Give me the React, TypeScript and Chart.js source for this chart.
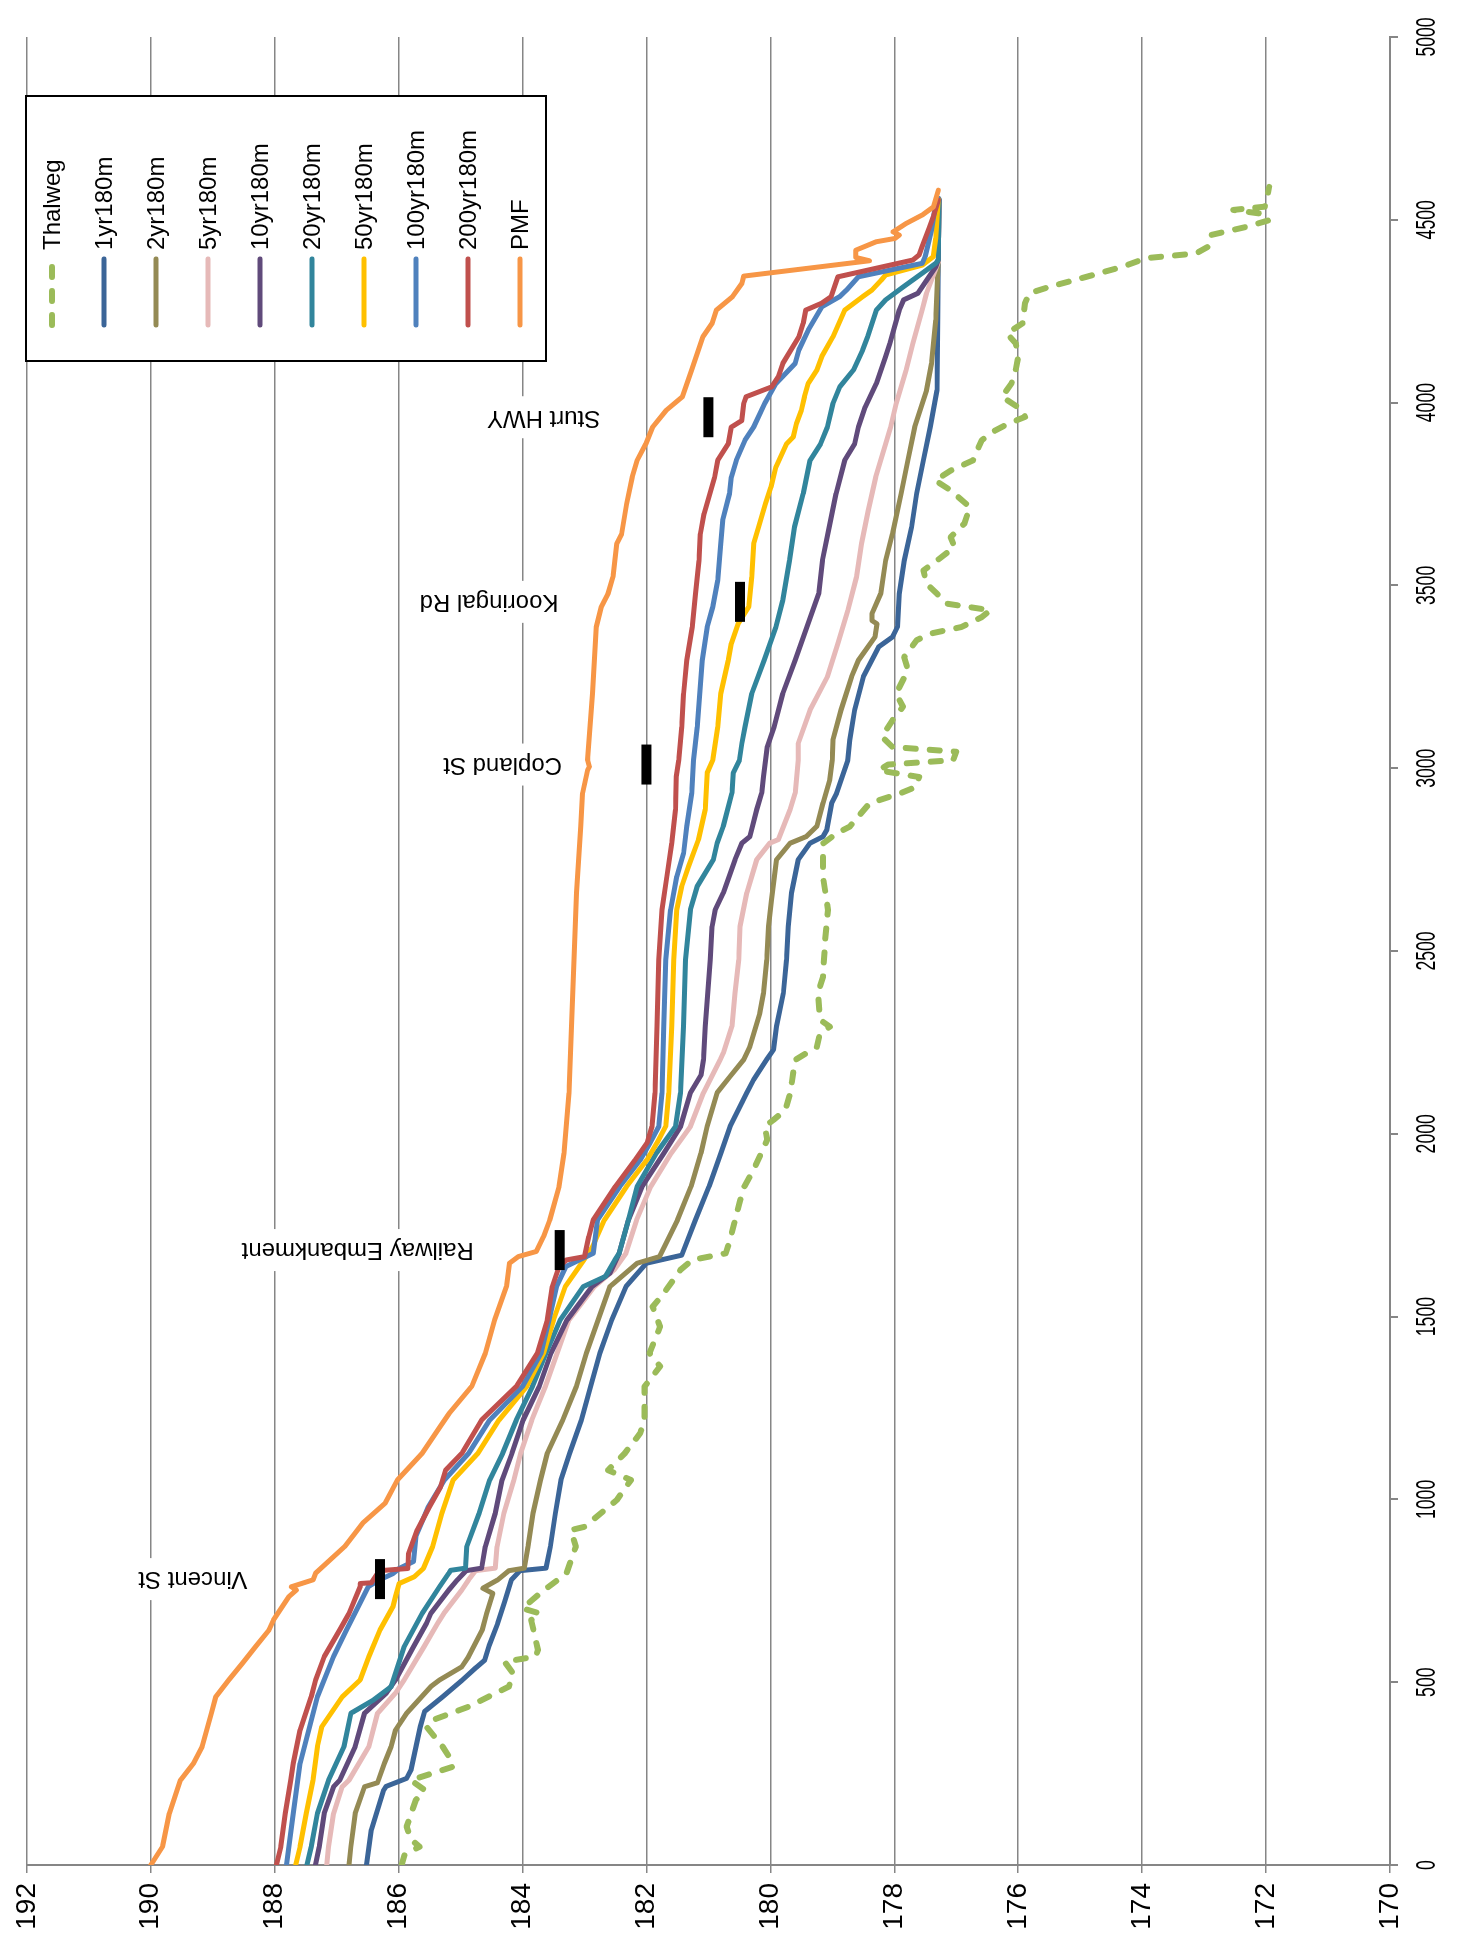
import React, { useEffect, useRef } from 'react';
import { Chart, registerables } from 'chart.js';

Chart.register(...registerables);

type Pt = [number, number];

// Series: [distance (m), elevation (m AHD)]
const thalweg: Pt[] = [
  [0, 185.95], [30, 185.9], [50, 185.66], [70, 185.8], [105, 185.87], [178, 185.72], [205, 185.58], [232, 185.8],
  [269, 185.12], [300, 185.2], [324, 185.29], [378, 185.55], [397, 185.44], [433, 184.87], [488, 184.22], [524, 184.15],
  [556, 184.29], [570, 183.79], [588, 183.75], [670, 183.86], [688, 183.72], [702, 184.0], [743, 183.72], [798, 183.29],
  [871, 183.14], [916, 183.22], [925, 183.0], [998, 182.48], [1053, 182.25], [1080, 182.62], [1126, 182.35], [1181, 182.1],
  [1218, 182.03], [1309, 182.03], [1364, 181.78], [1400, 181.95], [1472, 181.78], [1527, 181.9], [1564, 181.72], [1628, 181.45],
  [1655, 181.26], [1673, 180.72], [1710, 180.65], [1810, 180.5], [1856, 180.42], [1902, 180.27], [1984, 180.05], [2020, 180.09],
  [2038, 179.95], [2065, 179.76], [2110, 179.68], [2202, 179.6], [2238, 179.25], [2275, 179.2], [2293, 179.04], [2312, 179.2],
  [2385, 179.23], [2430, 179.15], [2521, 179.12], [2612, 179.07], [2703, 179.15], [2794, 179.15], [2822, 178.93], [2840, 178.72],
  [2904, 178.4], [2931, 177.91], [2949, 177.65], [2976, 177.6], [2994, 178.25], [3010, 178.1], [3022, 177.05], [3045, 177.0],
  [3058, 178.03], [3086, 178.2], [3131, 178.03], [3168, 177.86], [3204, 177.97], [3268, 177.78], [3304, 177.84], [3350, 177.64],
  [3368, 177.42], [3386, 176.92], [3413, 176.59], [3432, 176.45], [3450, 177.15], [3477, 177.31], [3505, 177.48], [3541, 177.53],
  [3568, 177.31], [3605, 177.03], [3632, 177.09], [3669, 176.87], [3714, 176.78], [3760, 177.09], [3787, 177.34], [3814, 177.09],
  [3842, 176.73], [3897, 176.59], [3924, 176.37], [3943, 176.15], [3961, 175.89], [3979, 175.93], [4016, 176.26], [4052, 176.11],
  [4089, 176.04], [4126, 176.0], [4162, 176.04], [4189, 176.18], [4217, 175.93], [4272, 175.89], [4299, 175.82], [4317, 175.49],
  [4344, 174.9], [4372, 174.31], [4395, 173.94], [4408, 173.13], [4426, 172.94], [4458, 172.9], [4481, 172.31], [4499, 171.95],
  [4517, 172.09], [4527, 172.53], [4536, 172.02], [4563, 171.98], [4590, 171.95],
];

const yr1: Pt[] = [
  [0, 186.52], [96, 186.44], [205, 186.24], [215, 186.2], [237, 185.87], [260, 185.8], [378, 185.65], [420, 185.58],
  [460, 185.29], [506, 184.97], [540, 184.75], [560, 184.61], [600, 184.54], [661, 184.4], [720, 184.29], [780, 184.18],
  [805, 184.04], [812, 183.62], [871, 183.55], [962, 183.47], [1053, 183.38], [1126, 183.24], [1217, 183.05], [1309, 182.9],
  [1400, 182.75], [1491, 182.56], [1582, 182.33], [1646, 182.0], [1668, 181.43], [1764, 181.21], [1856, 180.99], [1947, 180.8],
  [2020, 180.65], [2112, 180.38], [2148, 180.27], [2203, 180.06], [2230, 179.95], [2294, 179.9], [2385, 179.79], [2476, 179.74],
  [2567, 179.71], [2659, 179.66], [2750, 179.55], [2795, 179.36], [2813, 179.15], [2831, 179.09], [2905, 179.01], [2932, 178.93],
  [3022, 178.75], [3077, 178.72], [3159, 178.64], [3250, 178.5], [3332, 178.25], [3359, 178.03], [3386, 177.95], [3477, 177.92],
  [3568, 177.84], [3660, 177.72], [3751, 177.64], [3842, 177.53], [3933, 177.42], [4034, 177.31], [4226, 177.3], [4390, 177.29],
  [4558, 177.28],
];

const yr2: Pt[] = [
  [0, 186.8], [50, 186.77], [141, 186.7], [214, 186.55], [225, 186.34], [278, 186.23], [324, 186.12], [369, 186.05],
  [415, 185.87], [488, 185.48], [506, 185.34], [542, 184.98], [570, 184.87], [643, 184.65], [688, 184.58], [743, 184.48],
  [757, 184.64], [780, 184.4], [805, 184.22], [812, 183.97], [871, 183.91], [962, 183.83], [1053, 183.71], [1126, 183.6],
  [1217, 183.35], [1309, 183.13], [1400, 182.97], [1491, 182.78], [1582, 182.59], [1646, 182.15], [1664, 181.79], [1764, 181.5],
  [1856, 181.28], [1947, 181.12], [2020, 181.02], [2112, 180.86], [2157, 180.65], [2203, 180.43], [2239, 180.33], [2330, 180.17],
  [2385, 180.11], [2476, 180.06], [2567, 180.03], [2640, 179.98], [2750, 179.9], [2795, 179.68], [2813, 179.42], [2841, 179.25],
  [2905, 179.15], [2969, 179.04], [3022, 179.0], [3077, 178.99], [3159, 178.86], [3250, 178.69], [3295, 178.58], [3359, 178.31],
  [3395, 178.28], [3404, 178.36], [3423, 178.36], [3477, 178.22], [3568, 178.14], [3641, 178.03], [3751, 177.89], [3842, 177.78],
  [3933, 177.67], [4034, 177.48], [4107, 177.4], [4226, 177.33], [4390, 177.29], [4556, 177.28],
];

const yr5: Pt[] = [
  [0, 187.16], [50, 187.13], [141, 187.05], [214, 186.91], [232, 186.8], [324, 186.48], [415, 186.34], [470, 186.05],
  [506, 185.91], [597, 185.59], [661, 185.37], [688, 185.27], [752, 184.98], [780, 184.87], [805, 184.76], [812, 184.44],
  [871, 184.41], [962, 184.3], [1053, 184.14], [1126, 184.03], [1217, 183.85], [1309, 183.63], [1400, 183.44], [1491, 183.25],
  [1582, 182.84], [1628, 182.52], [1673, 182.33], [1764, 182.16], [1856, 181.93], [1947, 181.6], [2020, 181.29], [2112, 181.08],
  [2203, 180.81], [2221, 180.76], [2294, 180.62], [2385, 180.57], [2476, 180.51], [2567, 180.49], [2659, 180.38], [2750, 180.22],
  [2795, 180.01], [2805, 179.87], [2887, 179.68], [2932, 179.6], [3022, 179.55], [3068, 179.55], [3159, 179.36], [3250, 179.08],
  [3341, 178.91], [3432, 178.75], [3523, 178.61], [3614, 178.53], [3705, 178.42], [3796, 178.3], [3887, 178.14], [3933, 178.06],
  [3997, 177.97], [4089, 177.81], [4162, 177.7], [4253, 177.55], [4299, 177.48], [4385, 177.29], [4555, 177.28],
];

const yr10: Pt[] = [
  [0, 187.34], [50, 187.28], [141, 187.2], [214, 187.05], [232, 186.95], [324, 186.7], [415, 186.55], [470, 186.2],
  [506, 186.05], [597, 185.76], [661, 185.55], [688, 185.48], [752, 185.19], [780, 185.05], [805, 184.91], [812, 184.66],
  [871, 184.6], [962, 184.44], [1053, 184.33], [1126, 184.17], [1217, 183.99], [1309, 183.73], [1400, 183.54], [1491, 183.28],
  [1582, 182.88], [1619, 182.59], [1673, 182.44], [1764, 182.29], [1856, 182.07], [1947, 181.72], [2020, 181.45], [2112, 181.29],
  [2160, 181.12], [2203, 181.08], [2294, 181.05], [2476, 180.97], [2567, 180.94], [2613, 180.89], [2659, 180.76], [2750, 180.57],
  [2795, 180.46], [2813, 180.33], [2887, 180.22], [2932, 180.14], [2977, 180.11], [3059, 180.05], [3113, 179.94], [3204, 179.8],
  [3295, 179.6], [3386, 179.41], [3477, 179.22], [3568, 179.16], [3660, 179.05], [3751, 178.94], [3842, 178.8], [3887, 178.64],
  [3933, 178.58], [3988, 178.47], [4052, 178.29], [4126, 178.14], [4162, 178.07], [4253, 177.92], [4281, 177.85], [4299, 177.62],
  [4372, 177.33], [4390, 177.29], [4555, 177.28],
];

const yr20: Pt[] = [
  [0, 187.48], [50, 187.41], [141, 187.31], [232, 187.13], [324, 186.88], [415, 186.77], [451, 186.41], [488, 186.12],
  [597, 185.91], [688, 185.62], [761, 185.34], [798, 185.19], [806, 185.16], [812, 184.92], [871, 184.9], [962, 184.7],
  [1053, 184.53], [1126, 184.32], [1217, 184.1], [1309, 183.84], [1400, 183.62], [1491, 183.39], [1582, 183.02], [1610, 182.66],
  [1655, 182.51], [1673, 182.44], [1764, 182.29], [1856, 182.15], [1947, 181.84], [2020, 181.53], [2112, 181.45], [2294, 181.4],
  [2476, 181.37], [2613, 181.29], [2677, 181.18], [2750, 180.92], [2795, 180.86], [2841, 180.76], [2932, 180.62], [2987, 180.6],
  [3022, 180.5], [3068, 180.46], [3113, 180.41], [3204, 180.3], [3295, 180.1], [3386, 179.91], [3459, 179.8], [3568, 179.69],
  [3660, 179.61], [3751, 179.47], [3842, 179.36], [3887, 179.19], [3933, 179.08], [3998, 178.99], [4043, 178.88], [4089, 178.66],
  [4144, 178.51], [4180, 178.43], [4253, 178.29], [4281, 178.14], [4317, 177.85], [4354, 177.55], [4381, 177.33], [4390, 177.29],
  [4555, 177.28],
];

const yr50: Pt[] = [
  [0, 187.66], [50, 187.59], [141, 187.49], [232, 187.38], [324, 187.31], [378, 187.24], [460, 186.91], [506, 186.62],
  [570, 186.48], [643, 186.3], [707, 186.09], [734, 186.05], [770, 185.99], [788, 185.75], [811, 185.6], [871, 185.45],
  [962, 185.3], [1053, 185.12], [1126, 184.72], [1217, 184.38], [1309, 183.93], [1400, 183.66], [1491, 183.5], [1582, 183.31],
  [1655, 183.01], [1691, 182.87], [1764, 182.68], [1856, 182.32], [1929, 181.99], [1975, 181.83], [2020, 181.69], [2112, 181.64],
  [2294, 181.59], [2476, 181.56], [2613, 181.51], [2677, 181.43], [2732, 181.32], [2805, 181.16], [2887, 181.05], [2987, 181.02],
  [3022, 180.93], [3113, 180.85], [3204, 180.8], [3295, 180.68], [3341, 180.63], [3395, 180.52], [3441, 180.35], [3523, 180.3],
  [3614, 180.27], [3660, 180.19], [3723, 180.08], [3769, 179.99], [3824, 179.91], [3887, 179.74], [3906, 179.63], [3942, 179.58],
  [3979, 179.5], [4016, 179.45], [4052, 179.39], [4089, 179.25], [4126, 179.17], [4180, 178.99], [4253, 178.8], [4290, 178.51],
  [4308, 178.36], [4335, 178.21], [4349, 178.14], [4376, 177.55], [4399, 177.37], [4450, 177.33], [4556, 177.29],
];

const yr100: Pt[] = [
  [0, 187.81], [141, 187.7], [278, 187.59], [460, 187.31], [570, 187.05], [643, 186.84], [761, 186.49], [779, 186.32],
  [797, 186.09], [811, 185.99], [830, 185.76], [900, 185.72], [980, 185.52], [1053, 185.26], [1126, 184.87], [1217, 184.53],
  [1309, 184.0], [1400, 183.7], [1491, 183.57], [1582, 183.45], [1637, 183.3], [1655, 183.08], [1673, 182.86], [1764, 182.79],
  [1856, 182.43], [1929, 182.1], [1975, 181.94], [2020, 181.8], [2112, 181.75], [2294, 181.72], [2476, 181.69], [2613, 181.61],
  [2704, 181.51], [2768, 181.4], [2841, 181.35], [2932, 181.27], [3022, 181.24], [3113, 181.18], [3295, 181.1], [3386, 181.02],
  [3441, 180.93], [3514, 180.85], [3614, 180.8], [3678, 180.77], [3751, 180.66], [3796, 180.63], [3842, 180.55], [3897, 180.41],
  [3933, 180.27], [3998, 180.09], [4052, 179.91], [4107, 179.6], [4144, 179.54], [4198, 179.39], [4262, 179.17], [4290, 178.88],
  [4308, 178.77], [4344, 178.58], [4381, 177.55], [4400, 177.5], [4472, 177.4], [4545, 177.33], [4560, 177.3],
];

const yr200: Pt[] = [
  [0, 187.97], [50, 187.9], [141, 187.83], [232, 187.74], [278, 187.7], [369, 187.59], [460, 187.41], [506, 187.34],
  [570, 187.2], [643, 186.95], [688, 186.8], [761, 186.62], [770, 186.62], [772, 186.44], [805, 186.31], [811, 185.85],
  [852, 185.84], [916, 185.7], [980, 185.5], [1035, 185.32], [1080, 185.24], [1126, 184.98], [1217, 184.66], [1309, 184.1],
  [1400, 183.76], [1491, 183.6], [1582, 183.52], [1637, 183.41], [1655, 183.29], [1664, 183.0], [1719, 182.93], [1764, 182.86],
  [1856, 182.5], [1929, 182.18], [1975, 181.99], [2020, 181.91], [2112, 181.86], [2294, 181.83], [2476, 181.8], [2613, 181.75],
  [2704, 181.67], [2795, 181.59], [2887, 181.53], [2977, 181.52], [3022, 181.48], [3113, 181.43], [3204, 181.4], [3295, 181.35],
  [3386, 181.26], [3477, 181.21], [3568, 181.15], [3641, 181.13], [3696, 181.07], [3796, 180.9], [3842, 180.85], [3887, 180.68],
  [3933, 180.63], [3951, 180.46], [3998, 180.43], [4016, 180.39], [4043, 179.98], [4071, 179.87], [4107, 179.8], [4180, 179.54],
  [4217, 179.47], [4253, 179.43], [4272, 179.17], [4290, 179.02], [4344, 178.91], [4390, 177.7], [4404, 177.6], [4427, 177.55],
  [4477, 177.44], [4509, 177.37], [4554, 177.29],
];

const pmf: Pt[] = [
  [0, 190.0], [50, 189.81], [141, 189.7], [232, 189.52], [278, 189.31], [324, 189.17], [415, 189.02], [460, 188.95],
  [506, 188.74], [552, 188.52], [597, 188.31], [643, 188.09], [670, 188.02], [734, 187.77], [752, 187.65], [761, 187.73],
  [780, 187.38], [798, 187.34], [871, 186.87], [935, 186.58], [989, 186.22], [1053, 186.02], [1126, 185.62], [1199, 185.33],
  [1236, 185.18], [1309, 184.82], [1400, 184.6], [1491, 184.45], [1582, 184.26], [1646, 184.21], [1664, 184.07], [1678, 183.78],
  [1719, 183.66], [1764, 183.56], [1856, 183.41], [1947, 183.33], [2112, 183.25], [2294, 183.21], [2476, 183.17], [2659, 183.13],
  [2841, 183.06], [2932, 183.03], [2995, 182.95], [3004, 182.92], [3022, 182.95], [3204, 182.87], [3386, 182.81], [3441, 182.73],
  [3477, 182.62], [3523, 182.54], [3614, 182.48], [3641, 182.4], [3723, 182.32], [3796, 182.23], [3842, 182.15], [3887, 182.01],
  [3933, 181.9], [3979, 181.68], [4016, 181.42], [4089, 181.27], [4180, 181.09], [4217, 180.94], [4253, 180.87], [4290, 180.61],
  [4326, 180.46], [4346, 180.43], [4388, 178.4], [4397, 178.62], [4417, 178.62], [4440, 178.29], [4449, 177.99], [4458, 177.92],
  [4467, 178.02], [4490, 177.81], [4513, 177.55], [4535, 177.37], [4581, 177.29],
];

const seriesNames = ['Thalweg', '1yr180m', '2yr180m', '5yr180m', '10yr180m', '20yr180m', '50yr180m', '100yr180m', '200yr180m', 'PMF'];
const seriesData: Pt[][] = [thalweg, yr1, yr2, yr5, yr10, yr20, yr50, yr100, yr200, pmf];
const seriesColors = ['#9BBB59', '#3B6598', '#948A54', '#E6B9B8', '#604A7B', '#31859C', '#FFC000', '#4F81BD', '#C0504D', '#F79646'];

// Structures: name, chainage (m), marker level (m), label level (m)
const structureNames = ['Vincent St', 'Railway Embankment', 'Copland St', 'Kooringal Rd', 'Sturt HWY'];
const structureChainage = [782, 1682, 3010, 3455, 3960];
const structureMarkerLevel = [186.3, 183.4, 182.0, 180.49, 181.0];
const structureLabelLevel = [189.32, 186.66, 184.32, 184.54, 183.66];

const distanceMin = 0;
const distanceMax = 5000;
const distanceStep = 500;
const levelMin = 170;
const levelMax = 192;
const levelStep = 2;

const SANS = '"Liberation Sans", Arial, sans-serif';

export default function App() {
  const ref = useRef<HTMLCanvasElement>(null);

  useEffect(() => {
    const canvas = ref.current;
    if (!canvas) return;

    const structuresPlugin = {
      id: 'structures',
      afterDatasetsDraw(chart: any) {
        const { ctx } = chart;
        const xs = chart.scales.x;
        const ys = chart.scales.y;
        ctx.save();
        ctx.font = `24px ${SANS}`;
        for (let i = 0; i < structureNames.length; i++) {
          const px = xs.getPixelForValue(structureChainage[i]);
          const my = ys.getPixelForValue(structureMarkerLevel[i]);
          ctx.fillStyle = '#000';
          ctx.fillRect(px - 20, my - 5, 40, 10);
          const ty = ys.getPixelForValue(structureLabelLevel[i]);
          ctx.save();
          ctx.translate(px, ty);
          ctx.rotate(-Math.PI / 2);
          const w = ctx.measureText(structureNames[i]).width;
          ctx.fillStyle = '#fff';
          ctx.fillRect(-w / 2 - 8, -21, w + 16, 42);
          ctx.fillStyle = '#000';
          ctx.textAlign = 'center';
          ctx.textBaseline = 'middle';
          ctx.fillText(structureNames[i], 0, 0);
          ctx.restore();
        }
        ctx.restore();
      },
    };

    const distanceLabelsPlugin = {
      id: 'distanceLabels',
      afterDraw(chart: any) {
        const { ctx } = chart;
        const xs = chart.scales.x;
        ctx.save();
        ctx.font = `28px ${SANS}`;
        ctx.fillStyle = '#000';
        ctx.textAlign = 'center';
        ctx.textBaseline = 'alphabetic';
        for (let v = distanceMin; v <= distanceMax; v += distanceStep) {
          const cx = xs.getPixelForValue(v);
          ctx.save();
          ctx.translate(cx, xs.top + 45);
          ctx.scale(0.63, 1);
          ctx.fillText(String(v), 0, 0);
          ctx.restore();
        }
        ctx.restore();
      },
    };

    const legendPlugin = {
      id: 'customLegend',
      afterDraw(chart: any) {
        const { ctx } = chart;
        ctx.save();
        const bx = 1578, by = 26, bw = 265, bh = 520;
        ctx.fillStyle = '#fff';
        ctx.fillRect(bx, by, bw, bh);
        ctx.strokeStyle = '#000';
        ctx.lineWidth = 2;
        ctx.strokeRect(bx, by, bw, bh);
        ctx.font = `24px ${SANS}`;
        ctx.textBaseline = 'middle';
        ctx.textAlign = 'left';
        for (let i = 0; i < seriesNames.length; i++) {
          const cy = 52 + i * 52;
          ctx.beginPath();
          ctx.strokeStyle = seriesColors[i];
          ctx.lineWidth = i === 0 ? 6 : 5;
          ctx.lineCap = 'round';
          if (i === 0) ctx.setLineDash([10, 14]); else ctx.setLineDash([]);
          ctx.moveTo(1614, cy);
          ctx.lineTo(1680, cy);
          ctx.stroke();
          ctx.setLineDash([]);
          ctx.fillStyle = '#000';
          ctx.fillText(seriesNames[i], 1689, cy + 1);
        }
        ctx.restore();
      },
    };

    const datasets = seriesNames.map((name, i) => ({
      label: name,
      data: seriesData[i].map(([d, e]) => ({ x: d, y: e })),
      borderColor: seriesColors[i],
      backgroundColor: seriesColors[i],
      borderWidth: i === 0 ? 6 : 5,
      borderDash: i === 0 ? [10, 14] : [],
      borderCapStyle: 'round' as const,
      borderJoinStyle: 'round' as const,
      pointRadius: 0,
      pointHoverRadius: 0,
      tension: 0,
      fill: false,
      order: seriesNames.length - i,
    }));

    const chart = new Chart(canvas, {
      type: 'line',
      data: { datasets },
      options: {
        animation: false,
        responsive: false,
        maintainAspectRatio: false,
        devicePixelRatio: 1,
        events: [],
        layout: { padding: { top: 21, right: 37, left: 0, bottom: 0 } },
        plugins: {
          legend: { display: false },
          tooltip: { enabled: false },
          title: { display: false },
        },
        scales: {
          x: {
            type: 'linear',
            position: 'bottom',
            min: distanceMin,
            max: distanceMax,
            ticks: {
              stepSize: distanceStep,
              autoSkip: false,
              maxRotation: 0,
              minRotation: 0,
              padding: 16,
              color: 'rgba(0,0,0,0)',
              font: { family: SANS, size: 18 },
              callback: (v: any) => String(v),
            },
            grid: { display: true, drawOnChartArea: false, drawTicks: true, tickLength: 8, color: '#868686', lineWidth: 2 },
            border: { display: true, color: '#868686', width: 2 },
            afterFit: (s: any) => { s.height = 68; },
          },
          y: {
            type: 'linear',
            position: 'left',
            min: levelMin,
            max: levelMax,
            ticks: {
              stepSize: levelStep,
              padding: 10,
              color: '#000',
              font: { family: SANS, size: 28 },
            },
            grid: { display: true, drawOnChartArea: true, drawTicks: true, tickLength: 8, color: '#868686', lineWidth: 1.5 },
            border: { display: true, color: '#868686', width: 2 },
            afterFit: (s: any) => { s.width = 74; },
          },
        },
      },
      plugins: [structuresPlugin, distanceLabelsPlugin, legendPlugin],
    } as any);

    return () => chart.destroy();
  }, []);

  return (
    <div style={{ position: 'absolute', left: 0, top: 0, width: 1458, height: 1939, overflow: 'hidden', background: '#fff' }}>
      <div
        style={{
          position: 'absolute',
          left: 0,
          top: 0,
          width: 1939,
          height: 1458,
          transformOrigin: '0 0',
          transform: 'translate(0px, 1939px) rotate(-90deg)',
        }}
      >
        <canvas ref={ref} width={1939} height={1458} style={{ display: 'block', width: 1939, height: 1458 }} />
      </div>
    </div>
  );
}
